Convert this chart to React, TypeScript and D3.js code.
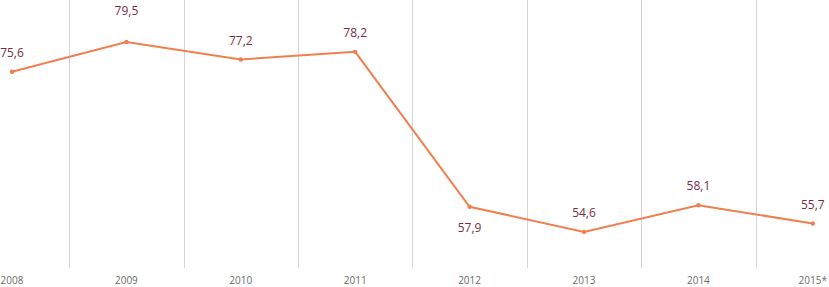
import React from "react";
import * as d3 from "d3";

const categories = ["2008", "2009", "2010", "2011", "2012", "2013", "2014", "2015*"];
const values = [75.6, 79.5, 77.2, 78.2, 57.9, 54.6, 58.1, 55.7];
const labelPos = ["above", "above", "above", "above", "below", "above", "above", "above"];

const W = 829;
const H = 287;

export default function App() {
  const x = d3.scalePoint<string>().domain(categories).range([12, 812.8]);
  const y = d3.scaleLinear().domain([50, 85]).range([267, 0]);
  const step = x.step();
  const line = d3
    .line<number>()
    .x((_, i) => x(categories[i]) as number)
    .y((d) => y(d));
  const fmt = (v: number) => v.toFixed(1).replace(".", ",");
  const font = "'Open Sans', 'Liberation Sans', sans-serif";

  return (
    <svg
      width={W}
      height={H}
      style={{ position: "absolute", left: 0, top: 0, background: "#fff" }}
    >
      {categories.slice(0, -1).map((c, i) => {
        const gx = Math.round((x(c) as number) + step / 2) + 0.5;
        return (
          <line key={c} x1={gx} x2={gx} y1={0} y2={268} stroke="#d4d4d4" strokeWidth={1} />
        );
      })}
      <path d={line(values) || ""} fill="none" stroke="#f07f50" strokeWidth={2} />
      {values.map((v, i) => (
        <circle key={i} cx={x(categories[i])} cy={y(v)} r={2.2} fill="#f07f50" />
      ))}
      {values.map((v, i) => {
        let dy = labelPos[i] === "below" ? 22 : -18;
        if (i === 1) dy = -30;
        return (
          <text
            key={i}
            x={x(categories[i])}
            y={y(v) + dy}
            textAnchor="middle"
            dominantBaseline="middle"
            fontFamily={font}
            fontSize={12}
            fill="#7b2c3e"
          >
            {fmt(v)}
          </text>
        );
      })}
      {categories.map((c) => (
        <text
          key={c}
          x={Math.min(x(c) as number, W - 16)}
          y={281.5}
          textAnchor="middle"
          dominantBaseline="middle"
          fontFamily={font}
          fontSize={10}
          fill="#6b6b6b"
        >
          {c}
        </text>
      ))}
    </svg>
  );
}
